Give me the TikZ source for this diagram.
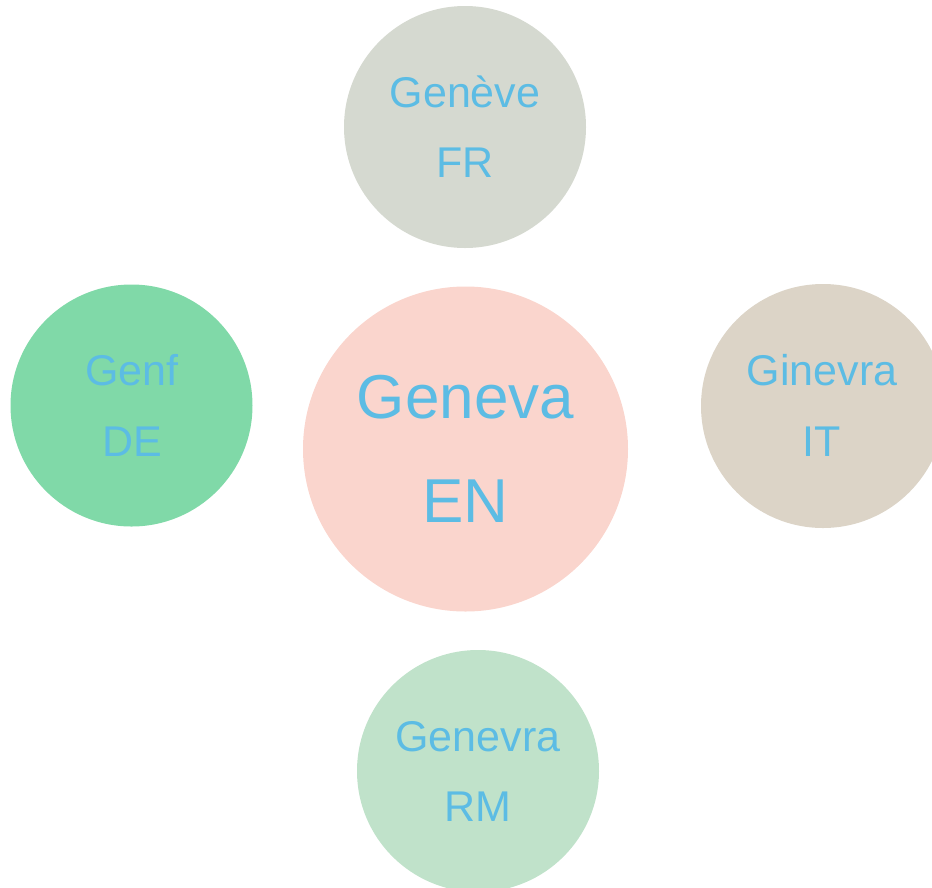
\documentclass[tikz,border=0pt]{standalone}
\usepackage{fontspec}
\setmainfont{Liberation Sans}
\definecolor{txt}{HTML}{5CBCE4}
\definecolor{cTop}{HTML}{D5D9D0}
\definecolor{cMid}{HTML}{FAD5CD}
\definecolor{cLeft}{HTML}{80D9A8}
\definecolor{cRight}{HTML}{DCD4C7}
\definecolor{cBot}{HTML}{C0E2CA}
\begin{document}
\begin{tikzpicture}[x=1pt,y=-1pt,
  blob/.style={circle,inner sep=0pt,draw=none},
  small/.style={text=txt,anchor=base,inner sep=0pt,font=\fontsize{43}{50}\selectfont},
  big/.style={text=txt,anchor=base,inner sep=0pt,font=\fontsize{62}{72}\selectfont}]
\useasboundingbox (0,0) rectangle (932,887);
\begin{scope}
\clip (0,0) rectangle (932,887);
\node[blob,fill=cTop,minimum size=242pt] (top) at (465,127) {};
\node[blob,fill=cMid,minimum size=325pt] (mid) at (465.5,449) {};
\node[blob,fill=cLeft,minimum size=242pt] (left) at (131.5,405.5) {};
\node[blob,fill=cRight,minimum size=244pt] (right) at (823,406) {};
\node[blob,fill=cBot,minimum size=242pt] (bot) at (478,771) {};
\end{scope}
\node[small] (t1) at (465,107) {Genève};
\node[small] (t2) at (465,177) {FR};
\node[big] (m1) at (465.5,418) {Geneva};
\node[big] (m2) at (465.5,522) {EN};
\node[small] (l1) at (132,385) {Genf};
\node[small] (l2) at (132,456) {DE};
\node[small] (r1) at (822,385) {Ginevra};
\node[small] (r2) at (822,456) {IT};
\node[small] (b1) at (478,751) {Genevra};
\node[small] (b2) at (478,821) {RM};
\end{tikzpicture}
\end{document}
